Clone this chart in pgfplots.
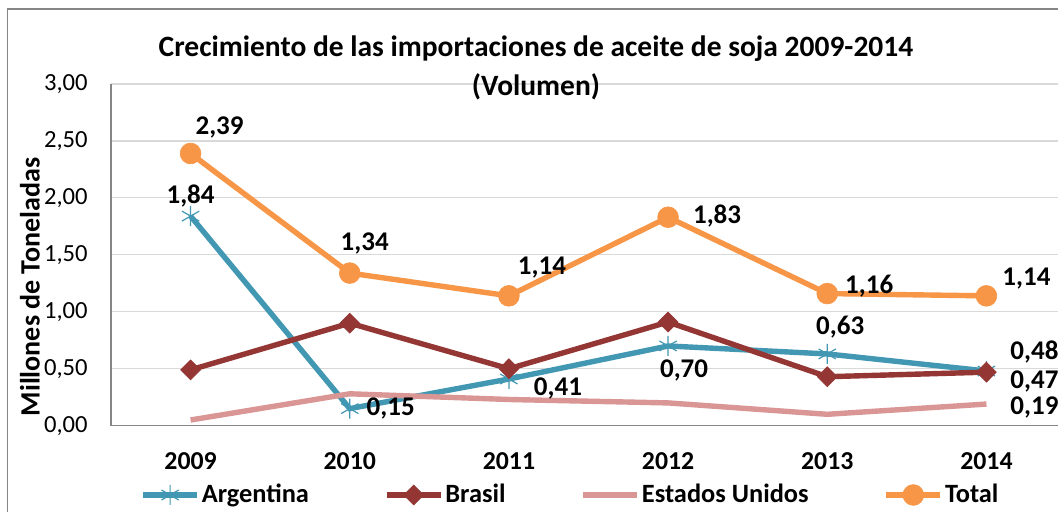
\documentclass[border=0pt]{standalone}
\usepackage{fontspec}
\setmainfont{Carlito}
\usepackage{pgfplots}
\pgfplotsset{compat=1.18}
\usepackage{pgfplotstable}
\definecolor{argc}{RGB}{66,152,178}
\definecolor{brac}{RGB}{148,54,52}
\definecolor{usac}{RGB}{217,150,148}
\definecolor{totc}{RGB}{247,150,70}
\definecolor{gridc}{RGB}{217,217,217}
\definecolor{axisc}{RGB}{134,134,134}
\definecolor{framec}{RGB}{134,134,134}
\pgfplotstableread{
x arg bra usa tot
0 1.84 0.49 0.05 2.39
1 0.15 0.90 0.28 1.34
2 0.41 0.50 0.23 1.14
3 0.70 0.91 0.20 1.83
4 0.63 0.43 0.10 1.16
5 0.48 0.47 0.19 1.14
}\data
\pgfplotstableread{
x y dx dy
0 2.39 14.5 13
1 1.34 7.5 15
2 1.14 16.5 14
3 1.83 24.5 0.5
4 1.16 21 3.5
5 1.14 20 8.5
0 1.84 0 10
1 0.15 20.5 0
2 0.41 24.5 -4.5
3 0.70 8 -12.5
4 0.63 6.5 13.5
5 0.48 24 9.5
5 0.47 24 -4.5
5 0.19 24 -1.5
}\labels
\begin{document}
\begin{tikzpicture}
\useasboundingbox (0,0) rectangle (529pt,256pt);
\clip (0,0) rectangle (529pt,256pt);
\fill[white] (0,0) rectangle (529pt,256pt);
\draw[framec, line width=0.6pt] (3.6pt,251.5pt) rectangle (560pt,-20pt);
\node[font=\bfseries\fontsize{14}{15}\selectfont, rotate=90] at (15pt,112.5pt) {Millones de Toneladas};
\begin{axis}[
  at={(55.5pt,43.15pt)}, anchor=south west,
  scale only axis, width=477.5pt, height=170.85pt,
  xmin=-0.5, xmax=5.5, ymin=0, ymax=3,
  xtick={0,1,2,3,4,5},
  xticklabels={2009,2010,2011,2012,2013,2014},
  ytick={0,0.5,1,1.5,2,2.5,3},
  major tick length=0pt,
  /pgf/number format/assume math mode=true,
  yticklabel style={/pgf/number format/.cd, fixed, fixed zerofill, precision=2, use comma, /tikz/.cd,
     font=\fontsize{12.3}{14}\selectfont, anchor=east, inner sep=0pt, xshift=-11.5pt},
  xticklabel style={font=\bfseries\fontsize{12.9}{14}\selectfont, anchor=base, inner sep=0pt, yshift=-22pt},
  ymajorgrids, grid style={gridc, line width=0.6pt},
  axis x line*=bottom, axis y line*=left,
  axis line style={axisc, line width=0.6pt},
  clip=false,
  legend columns=4,
  legend style={at={(0.0304,-0.2028)}, anchor=west, draw=none, fill=none, inner sep=0pt,
     font=\bfseries\fontsize{13.2}{14}\selectfont,
     nodes={inner sep=1pt},
     /tikz/every even column/.append style={column sep=36.5pt}},
  legend image code/.code={\draw[mark repeat=2, mark phase=2] plot coordinates {(0pt,0pt) (13.5pt,0pt) (27pt,0pt)};},
]
\addplot[argc, line width=2.7pt, mark=asterisk, mark size=5pt, mark options={line width=0.6pt}] table[x=x,y=arg] \data;
\addlegendentry{Argentina}
\addplot[brac, line width=2.7pt, mark=diamond*, mark size=5pt, mark options={xscale=1.33, line width=0.3pt}] table[x=x,y=bra] \data;
\addlegendentry{Brasil}
\addplot[usac, line width=2.7pt, mark=none] table[x=x,y=usa] \data;
\addlegendentry{Estados Unidos}
\addplot[totc, line width=2.7pt, mark=*, mark size=5.2pt, mark options={line width=0.3pt}] table[x=x,y=tot] \data;
\addlegendentry{Total}
\addplot[draw=none, mark=none, forget plot,
  nodes near coords={\pgfmathprintnumber[fixed,fixed zerofill,precision=2,use comma,assume math mode=true]{\pgfplotspointmeta}},
  point meta=y,
  visualization depends on={\thisrow{dx}\as\dx},
  visualization depends on={\thisrow{dy}\as\dy},
  every node near coord/.append style={anchor=center, xshift=\dx pt, yshift=\dy pt, inner sep=0pt, black,
     font=\bfseries\fontsize{13.5}{14}\selectfont}]
  table[x=x,y=y] \labels;
\end{axis}
\node[font=\bfseries\fontsize{14.75}{19.5}\selectfont, align=center] at (268pt,222.25pt) {Crecimiento de las importaciones de aceite de soja 2009-2014\\(Volumen)};
\end{tikzpicture}
\end{document}
